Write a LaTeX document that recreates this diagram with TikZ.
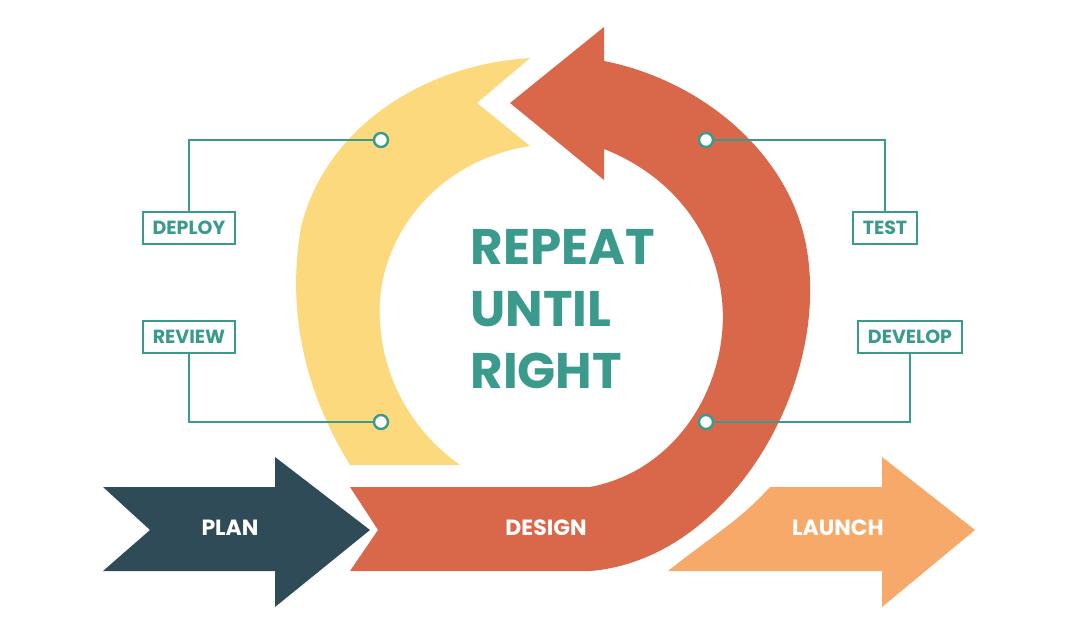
\documentclass[tikz,border=0pt]{standalone}
\usepackage{fontspec}
\setmainfont{Poppins}
\definecolor{cred}{HTML}{D9674A}
\definecolor{cyel}{HTML}{FDD97D}
\definecolor{cdark}{HTML}{2E4B57}
\definecolor{corg}{HTML}{F7A96A}
\definecolor{cteal}{HTML}{3A9A8C}
\begin{document}
\begin{tikzpicture}[x=0.5pt,y=-0.5pt,
  lbl/.style={draw=cteal,line width=1pt,fill=white,text=cteal,font=\fontsize{9.5}{10}\selectfont\bfseries,inner xsep=5pt,inner ysep=0pt,minimum height=16pt},
  lnk/.style={draw=cteal,line width=1pt},
  dot/.style={circle,draw=cteal,line width=1.2pt,fill=white,minimum size=7pt,inner sep=0pt},
  wt/.style={text=white,font=\fontsize{11}{12}\selectfont\bfseries}]
\useasboundingbox (0,0) rectangle (1080,635);
% yellow arrow
\fill[cyel] (530,58) -- (477,103) -- (530,146) .. controls (440,160) and (385,230) .. (380,300) .. controls (376,370) and (410,430) .. (460,465) -- (350,465) .. controls (310,400) and (285,320) .. (301,227) .. controls (325,130) and (420,65) .. (530,58) -- cycle;
% red arrow
\fill[cred] (510,103) -- (604,27) -- (604,61) .. controls (700,80) and (785,150) .. (805,240) .. controls (835,380) and (730,560) .. (590,571) -- (350,571) -- (378,530) -- (350,487) -- (590,487) .. controls (680,470) and (730,380) .. (722,300) .. controls (715,230) and (670,175) .. (604,149) -- (604,180) -- cycle;
% plan
\fill[cdark] (103,487) -- (275,487) -- (275,457) -- (370,530) -- (275,607) -- (275,571) -- (103,571) -- (150,530) -- cycle;
% launch
\fill[corg] (668,571) .. controls (720,530) and (740,520) .. (770,487) -- (882,487) -- (882,457) -- (975,530) -- (882,607) -- (882,571) -- cycle;
\node[wt] (plan) at (230,528) {PLAN};
\node[wt] (design) at (546,528) {DESIGN};
\node[wt] (launch) at (838,528) {LAUNCH};
% labels
\node[lbl] (deploy) at (189,228) {DEPLOY};
\node[lbl] (review) at (189,337) {REVIEW};
\node[lbl] (test) at (885,228) {TEST};
\node[lbl] (develop) at (910,337) {DEVELOP};
\node[dot] (d1) at (381,140) {};
\node[dot] (d2) at (381,422) {};
\node[dot] (d3) at (706,140) {};
\node[dot] (d4) at (706,422) {};
\draw[lnk] (deploy.north) |- (d1.west);
\draw[lnk] (review.south) |- (d2.west);
\draw[lnk] (test.north) |- (d3.east);
\draw[lnk] (develop.south) |- (d4.east);
\node[text=cteal,font=\fontsize{25}{31}\selectfont\bfseries,align=left,anchor=north west,inner sep=0pt] (rep) at (470,229) {REPEAT\\UNTIL\\RIGHT};
\end{tikzpicture}
\end{document}
